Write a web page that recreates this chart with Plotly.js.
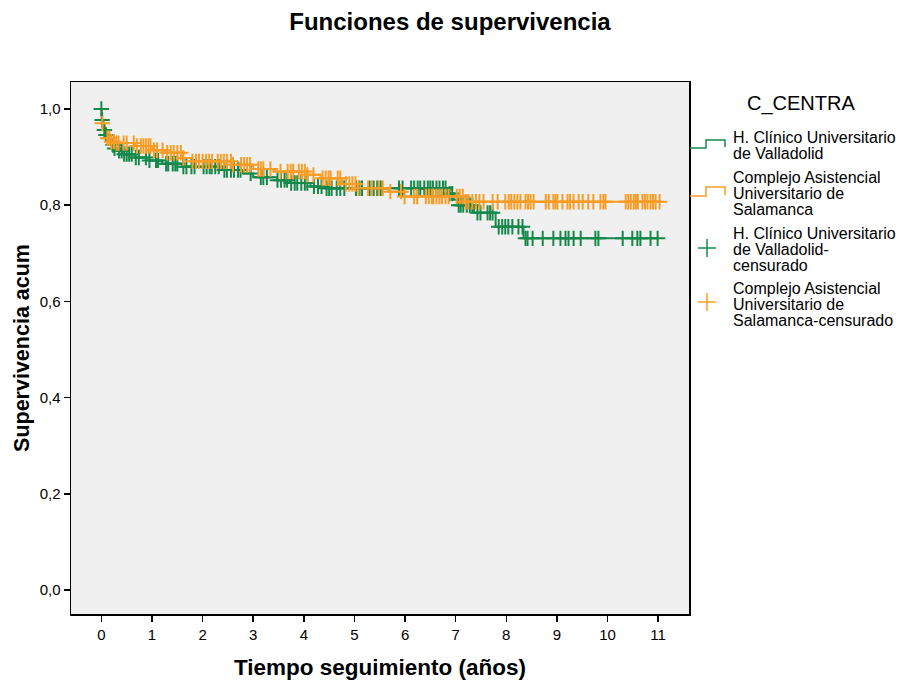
<!DOCTYPE html>
<html><head><meta charset="utf-8">
<script src="https://cdn.plot.ly/plotly-3.0.1.min.js"></script>
<style>html,body{margin:0;padding:0;background:#fff}#chart{width:900px;height:682px}</style>
</head><body><div id="chart"></div>
<script>
// ---------- DATA ----------
const groupNames = ["H. Clínico Universitario de Valladolid", "Complejo Asistencial Universitario de Salamanca"];

// Kaplan-Meier steps (time in years, cumulative survival after the step)
const vallTimes = [0, 0.01, 0.04, 0.08, 0.12, 0.2, 0.26, 0.3, 0.41, 0.67, 0.93, 1.2, 1.6, 2.4, 2.8, 3.0, 3.47, 3.73, 4.13, 4.45, 6.84, 6.96, 7.03, 7.36, 7.79, 8.34];
const vallSurv  = [1.0, 0.977, 0.956, 0.946, 0.936, 0.925, 0.918, 0.913, 0.906, 0.899, 0.893, 0.886, 0.880, 0.873, 0.866, 0.858, 0.852, 0.846, 0.839, 0.835, 0.824, 0.811, 0.80, 0.784, 0.755, 0.731];
const vallCensor = [0.0, 0.015, 0.06, 0.09, 0.23, 0.26, 0.35, 0.4, 0.45, 0.5, 0.55, 0.6, 0.68, 0.74, 0.88, 0.95, 1.08, 1.12, 1.28, 1.32, 1.41, 1.46, 1.5, 1.62, 1.68, 1.78, 1.84, 2.02, 2.08, 2.14, 2.18, 2.25, 2.32, 2.43, 2.48, 2.56, 2.62, 2.7, 2.75, 2.95, 3.15, 3.2, 3.27, 3.48, 3.55, 3.62, 3.67, 3.75, 3.82, 3.87, 3.95, 4.02, 4.07, 4.2, 4.28, 4.35, 4.45, 4.5, 4.55, 4.65, 4.72, 4.8, 5.03, 5.1, 5.15, 5.3, 5.38, 5.45, 5.52, 5.88, 5.95, 6.12, 6.18, 6.25, 6.3, 6.38, 6.45, 6.5, 6.55, 6.62, 6.68, 6.75, 6.8, 6.88, 6.93, 7.06, 7.1, 7.15, 7.22, 7.28, 7.33, 7.43, 7.49, 7.63, 7.68, 7.73, 7.85, 7.92, 7.98, 8.04, 8.12, 8.24, 8.32, 8.38, 8.42, 8.52, 8.72, 8.93, 9.07, 9.17, 9.23, 9.33, 9.47, 9.76, 9.82, 10.3, 10.49, 10.59, 10.65, 10.85, 10.99];

const salaTimes = [0, 0.01, 0.06, 0.1, 0.17, 0.3, 0.67, 1.0, 1.27, 1.6, 1.8, 2.6, 3.0, 3.4, 4.07, 4.33, 4.76, 5.08, 5.67, 5.97, 7.2];
const salaSurv  = [1.0, 0.970, 0.949, 0.939, 0.932, 0.929, 0.923, 0.914, 0.909, 0.898, 0.891, 0.884, 0.875, 0.870, 0.863, 0.856, 0.844, 0.835, 0.828, 0.818, 0.807];
const salaCensor = [0.02, 0.12, 0.16, 0.2, 0.25, 0.3, 0.34, 0.44, 0.5, 0.64, 0.7, 0.78, 0.83, 0.88, 0.93, 0.97, 1.04, 1.1, 1.21, 1.3, 1.37, 1.43, 1.5, 1.57, 1.62, 1.8, 1.87, 1.93, 2.0, 2.07, 2.13, 2.19, 2.3, 2.36, 2.42, 2.48, 2.56, 2.6, 2.76, 2.82, 2.88, 2.94, 3.1, 3.15, 3.2, 3.34, 3.54, 3.68, 3.74, 3.79, 3.9, 3.96, 4.02, 4.07, 4.19, 4.37, 4.43, 4.49, 4.53, 4.67, 4.72, 4.83, 4.9, 4.96, 5.02, 5.08, 5.27, 5.35, 5.48, 5.56, 5.71, 5.92, 5.99, 6.18, 6.24, 6.41, 6.47, 6.53, 6.56, 6.62, 6.68, 6.73, 6.8, 6.86, 7.02, 7.08, 7.14, 7.2, 7.25, 7.33, 7.4, 7.47, 7.55, 7.73, 7.83, 7.98, 8.05, 8.1, 8.16, 8.22, 8.28, 8.38, 8.43, 8.48, 8.54, 8.78, 8.84, 8.93, 8.97, 9.01, 9.11, 9.21, 9.26, 9.33, 9.43, 9.51, 9.62, 9.72, 9.86, 9.92, 9.96, 10.36, 10.41, 10.46, 10.52, 10.56, 10.6, 10.69, 10.74, 10.79, 10.85, 10.9, 10.95, 11.03];

const xTickVals = [0, 1, 2, 3, 4, 5, 6, 7, 8, 9, 10, 11];
const xTickText = ["0", "1", "2", "3", "4", "5", "6", "7", "8", "9", "10", "11"];
const yTickVals = [0.0, 0.2, 0.4, 0.6, 0.8, 1.0];
const yTickText = ["0,0", "0,2", "0,4", "0,6", "0,8", "1,0"];

const chartTitle = "Funciones de supervivencia";
const xTitle = "Tiempo seguimiento (años)";
const yTitle = "Supervivencia acum";
const legendTitle = "C_CENTRA";
const legendLabels = [
  ["H. Clínico Universitario", "de Valladolid"],
  ["Complejo Asistencial", "Universitario de", "Salamanca"],
  ["H. Clínico Universitario", "de Valladolid-", "censurado"],
  ["Complejo Asistencial", "Universitario de", "Salamanca-censurado"]
];

// ---------- STYLE ----------
const GREEN = "#15894a";
const ORANGE = "#f99d27";
const FONT = "Liberation Sans, Arial, Helvetica, sans-serif";

function survAt(times, surv, t) {
  let s = surv[0];
  for (let i = 0; i < times.length; i++) if (times[i] <= t) s = surv[i];
  return s;
}
function lineTrace(times, surv, censor, color) {
  const last = censor[censor.length - 1];
  return {
    x: times.concat([last]), y: surv.concat([surv[surv.length - 1]]),
    type: "scatter", mode: "lines", line: {shape: "hv", color: color, width: 2},
    hoverinfo: "skip", showlegend: false
  };
}
function censorTrace(times, surv, censor, color) {
  return {
    x: censor, y: censor.map(t => survAt(times, surv, t)),
    type: "scatter", mode: "markers",
    marker: {symbol: "cross-thin-open", size: 11, color: color, line: {color: color, width: 2}},
    hoverinfo: "skip", showlegend: false
  };
}

const data = [
  lineTrace(vallTimes, vallSurv, vallCensor, GREEN),
  lineTrace(salaTimes, salaSurv, salaCensor, ORANGE),
  censorTrace(vallTimes, vallSurv, vallCensor, GREEN),
  censorTrace(salaTimes, salaSurv, salaCensor, ORANGE)
];

// plot area in pixels
const PL = 71, PR = 689, PT = 82, PB = 614;
const px = v => (v - PL) / (PR - PL);
const py = v => (PB - v) / (PB - PT);

const shapes = [];
const annotations = [];
function stepIcon(yLow, yHigh, color) {
  shapes.push({type: "path", xref: "paper", yref: "paper",
    path: `M ${px(690)} ${py(yLow)} L ${px(706)} ${py(yLow)} L ${px(706)} ${py(yHigh)} L ${px(725)} ${py(yHigh)} L ${px(725)} ${py(yLow - 1)}`,
    line: {color: color, width: 1.5}});
}
function plusIcon(cx, cy, color) {
  shapes.push({type: "line", xref: "paper", yref: "paper", x0: px(cx - 9), x1: px(cx + 9), y0: py(cy), y1: py(cy), line: {color: color, width: 1.5}});
  shapes.push({type: "line", xref: "paper", yref: "paper", x0: px(cx), x1: px(cx), y0: py(cy - 9), y1: py(cy + 9), line: {color: color, width: 1.5}});
}
stepIcon(148, 140, GREEN);
stepIcon(196, 187, ORANGE);
plusIcon(707, 248, GREEN);
plusIcon(707, 302, ORANGE);

annotations.push({text: legendTitle, xref: "paper", yref: "paper", x: px(801), y: py(103),
  xanchor: "center", yanchor: "middle", showarrow: false, font: {family: FONT, size: 20, color: "#000"}});
const lineYs = [[137, 153], [177, 193, 209], [233, 249, 265], [288, 304, 320]];
legendLabels.forEach((lines, i) => {
  lines.forEach((ln, j) => {
    annotations.push({text: ln, xref: "paper", yref: "paper", x: px(731), y: py(lineYs[i][j]),
      xanchor: "left", yanchor: "middle", showarrow: false, font: {family: FONT, size: 16, color: "#000"}});
  });
});

const layout = {
  width: 900, height: 682,
  margin: {l: PL, r: 900 - PR, t: PT, b: 682 - PB, pad: 0},
  paper_bgcolor: "#ffffff", plot_bgcolor: "#f0f0f0",
  separators: ",.",
  showlegend: false,
  font: {family: FONT, color: "#000"},
  title: {text: chartTitle, x: 0.5, xref: "container", xanchor: "center",
    y: 1 - 22 / 682, yref: "container", yanchor: "middle",
    font: {family: FONT, size: 24, weight: "bold", color: "#000"}},
  xaxis: {
    range: [-0.6, 11.61], tickmode: "array", tickvals: xTickVals, ticktext: xTickText,
    ticks: "outside", ticklen: 6, tickwidth: 1.5, tickcolor: "#000",
    showline: true, mirror: true, linecolor: "#000", linewidth: 1.5,
    showgrid: false, zeroline: false, tickfont: {family: FONT, size: 15, color: "#000"},
    title: {text: xTitle, standoff: 17, font: {family: FONT, size: 22.5, weight: "bold", color: "#000"}}
  },
  yaxis: {
    range: [-0.05, 1.056], tickmode: "array", tickvals: yTickVals, ticktext: yTickText,
    ticks: "outside", ticklen: 6, tickwidth: 1.5, tickcolor: "#000",
    showline: true, mirror: true, linecolor: "#000", linewidth: 1.5,
    showgrid: false, zeroline: false, tickfont: {family: FONT, size: 15, color: "#000"},
    title: {text: yTitle, standoff: 4, font: {family: FONT, size: 21.5, weight: "bold", color: "#000"}}
  },
  shapes: shapes,
  annotations: annotations
};

Plotly.newPlot("chart", data, layout, {displayModeBar: false, staticPlot: true});
</script>
</body></html>
